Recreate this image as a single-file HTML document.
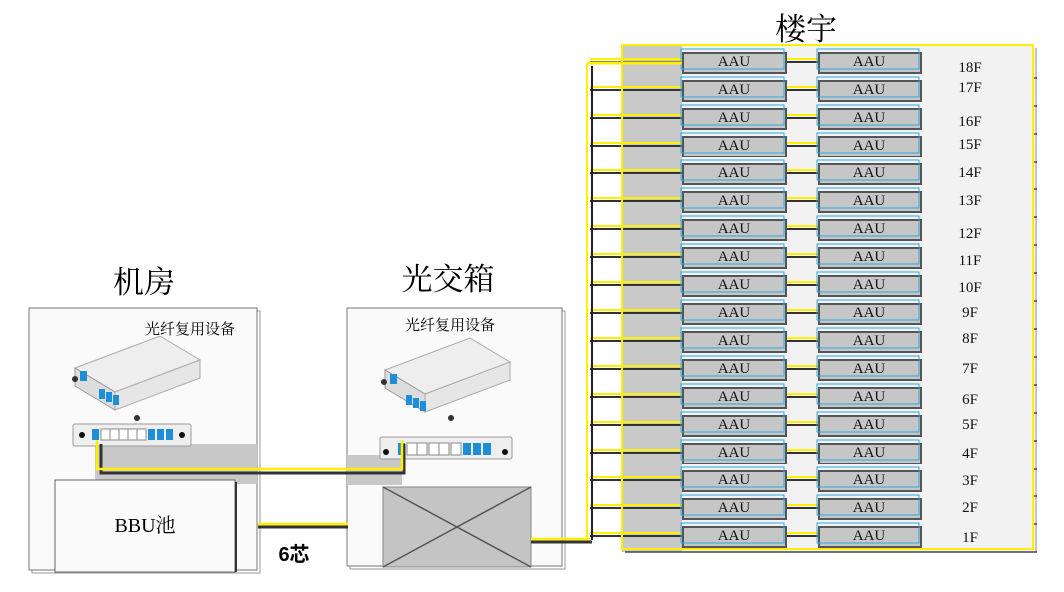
<!DOCTYPE html>
<html><head><meta charset="utf-8"><style>
body{margin:0;background:#fff}
svg{display:block}
.s{font-family:"Liberation Serif","Noto Serif CJK SC",serif}
.c{font-family:"Liberation Sans","Noto Sans CJK SC",sans-serif}
.t{font-family:"Liberation Serif","Noto Serif CJK SC",serif}
</style></head><body>
<svg width="1064" height="592" viewBox="0 0 1064 592" xmlns="http://www.w3.org/2000/svg">
<defs>
<g id="row">
  <rect x="622" y="-6" width="60" height="32" fill="#c9c9c9"/>
  <rect x="682" y="-6" width="350" height="32" fill="#f2f2f2"/>
  <line x1="625" y1="26" x2="1037" y2="26" stroke="#444" stroke-width="1.5"/>
  <line x1="590" y1="10" x2="682" y2="10" stroke="#333" stroke-width="2"/>
  <line x1="590" y1="7" x2="682" y2="7" stroke="#ffef00" stroke-width="2"/>
  <line x1="786" y1="10" x2="818" y2="10" stroke="#333" stroke-width="2"/>
  <line x1="786" y1="7" x2="818" y2="7" stroke="#ffef00" stroke-width="2"/>
  <rect x="683" y="1" width="103" height="20" fill="#c6c6c6" stroke="#555" stroke-width="2"/>
  <rect x="681" y="-3" width="103" height="20" fill="none" stroke="#29abe2" stroke-width="1"/>
  <rect x="819" y="1" width="102" height="20" fill="#c6c6c6" stroke="#555" stroke-width="2"/>
  <rect x="817" y="-3" width="102" height="20" fill="none" stroke="#29abe2" stroke-width="1"/>
</g>
</defs>
<rect x="622" y="45" width="411" height="504" fill="#f2f2f2" stroke="#ffef00" stroke-width="2"/>
<line x1="1036" y1="48" x2="1036" y2="552" stroke="#888"/>
<line x1="626" y1="552" x2="1036" y2="552" stroke="#888"/>
<use href="#row" y="52"/><use href="#row" y="80"/><use href="#row" y="108"/><use href="#row" y="136"/>
<use href="#row" y="163"/><use href="#row" y="191"/><use href="#row" y="219"/><use href="#row" y="247"/>
<use href="#row" y="275"/><use href="#row" y="303"/><use href="#row" y="331"/><use href="#row" y="359"/>
<use href="#row" y="387"/><use href="#row" y="415"/><use href="#row" y="443"/><use href="#row" y="470"/>
<use href="#row" y="498"/><use href="#row" y="526"/>
<rect x="622" y="45" width="411" height="504" fill="none" stroke="#ffef00" stroke-width="2"/>
<line x1="592" y1="66" x2="592" y2="540" stroke="#222" stroke-width="2"/>
<line x1="587" y1="63" x2="587" y2="540" stroke="#ffef00" stroke-width="2"/>
<line x1="587" y1="63" x2="682" y2="63" stroke="#ffef00" stroke-width="3"/>
<g class="s" font-size="15" text-anchor="middle" fill="#111">
<text x="734" y="66">AAU</text><text x="869" y="66">AAU</text>
<text x="734" y="94">AAU</text><text x="869" y="94">AAU</text>
<text x="734" y="122">AAU</text><text x="869" y="122">AAU</text>
<text x="734" y="150">AAU</text><text x="869" y="150">AAU</text>
<text x="734" y="177">AAU</text><text x="869" y="177">AAU</text>
<text x="734" y="205">AAU</text><text x="869" y="205">AAU</text>
<text x="734" y="233">AAU</text><text x="869" y="233">AAU</text>
<text x="734" y="261">AAU</text><text x="869" y="261">AAU</text>
<text x="734" y="289">AAU</text><text x="869" y="289">AAU</text>
<text x="734" y="317">AAU</text><text x="869" y="317">AAU</text>
<text x="734" y="345">AAU</text><text x="869" y="345">AAU</text>
<text x="734" y="373">AAU</text><text x="869" y="373">AAU</text>
<text x="734" y="401">AAU</text><text x="869" y="401">AAU</text>
<text x="734" y="429">AAU</text><text x="869" y="429">AAU</text>
<text x="734" y="457">AAU</text><text x="869" y="457">AAU</text>
<text x="734" y="484">AAU</text><text x="869" y="484">AAU</text>
<text x="734" y="512">AAU</text><text x="869" y="512">AAU</text>
<text x="734" y="540">AAU</text><text x="869" y="540">AAU</text>
</g>
<g class="s" font-size="15" text-anchor="middle" fill="#111">
<text x="970" y="72">18F</text><text x="970" y="92">17F</text><text x="970" y="126">16F</text>
<text x="970" y="149">15F</text><text x="970" y="177">14F</text><text x="970" y="205">13F</text>
<text x="970" y="238">12F</text><text x="970" y="265">11F</text><text x="970" y="292">10F</text>
<text x="970" y="317">9F</text><text x="970" y="343">8F</text><text x="970" y="373">7F</text>
<text x="970" y="404">6F</text><text x="970" y="429">5F</text><text x="970" y="458">4F</text>
<text x="970" y="485">3F</text><text x="970" y="512">2F</text><text x="970" y="542">1F</text>
</g>
<text x="806" y="40" class="t" font-size="31" text-anchor="middle">楼宇</text>

<text x="144" y="293" class="t" font-size="31" text-anchor="middle">机房</text>
<rect x="32" y="311" width="228" height="262" fill="#fff" stroke="#999"/>
<rect x="29" y="308" width="228" height="262" fill="#fafafa" stroke="#777"/>
<text x="190" y="334" class="t" font-size="15" text-anchor="middle">光纤复用设备</text>
<rect x="95" y="444" width="162" height="40" fill="#c8c8c8"/>
<polygon points="75,368 160,336 200,360 115,392" fill="#eee" stroke="#aaa"/>
<polygon points="75,368 115,392 115,410 75,386" fill="#ddd" stroke="#999"/>
<polygon points="115,392 200,360 200,378 115,410" fill="#e6e6e6" stroke="#aaa"/>
<rect x="80" y="371" width="7" height="10" fill="#1e8fd6"/>
<rect x="99" y="389" width="6" height="10" fill="#1e8fd6"/><rect x="106" y="392" width="6" height="10" fill="#1e8fd6"/><rect x="113" y="395" width="6" height="10" fill="#1e8fd6"/>
<circle cx="75" cy="379" r="3" fill="#333"/><circle cx="137" cy="418" r="3" fill="#333"/>
<rect x="73" y="424" width="118" height="22" rx="2" fill="#eee" stroke="#999"/>
<circle cx="82" cy="435" r="3" fill="#111"/><circle cx="182" cy="435" r="3" fill="#111"/>
<rect x="92" y="429" width="7" height="11" fill="#1e8fd6"/>
<rect x="101" y="429" width="9" height="11" fill="#fff" stroke="#888"/><rect x="110" y="429" width="9" height="11" fill="#fff" stroke="#888"/><rect x="119" y="429" width="9" height="11" fill="#fff" stroke="#888"/><rect x="128" y="429" width="9" height="11" fill="#fff" stroke="#888"/><rect x="137" y="429" width="9" height="11" fill="#fff" stroke="#888"/>
<rect x="148" y="429" width="7" height="11" fill="#1e8fd6"/><rect x="157" y="429" width="7" height="11" fill="#1e8fd6"/><rect x="166" y="429" width="7" height="11" fill="#1e8fd6"/>
<rect x="55" y="480" width="180" height="92" fill="#fafafa" stroke="#666"/>
<line x1="236" y1="482" x2="236" y2="572" stroke="#333" stroke-width="2"/>
<text x="145" y="532" class="s" font-size="20" text-anchor="middle">BBU池</text>

<text x="448" y="290" class="t" font-size="31" text-anchor="middle">光交箱</text>
<rect x="350" y="311" width="215" height="258" fill="#fff" stroke="#999"/>
<rect x="347" y="308" width="215" height="258" fill="#fafafa" stroke="#777"/>
<text x="450" y="330" class="t" font-size="15" text-anchor="middle">光纤复用设备</text>
<rect x="347" y="455" width="55" height="30" fill="#c8c8c8"/>
<polygon points="385,370 470,338 510,362 425,394" fill="#eee" stroke="#aaa"/>
<polygon points="385,370 425,394 425,412 385,388" fill="#ddd" stroke="#999"/>
<polygon points="425,394 510,362 510,380 425,412" fill="#e6e6e6" stroke="#aaa"/>
<rect x="390" y="374" width="7" height="10" fill="#1e8fd6"/>
<rect x="406" y="395" width="6" height="10" fill="#1e8fd6"/><rect x="413" y="398" width="6" height="10" fill="#1e8fd6"/><rect x="420" y="401" width="6" height="10" fill="#1e8fd6"/>
<circle cx="384" cy="382" r="3" fill="#333"/><circle cx="451" cy="418" r="3" fill="#333"/>
<rect x="380" y="437" width="132" height="22" rx="2" fill="#eee" stroke="#999"/>
<circle cx="386" cy="452" r="3" fill="#111"/><circle cx="505" cy="452" r="3" fill="#111"/>
<rect x="398" y="443" width="7" height="12" fill="#1e8fd6"/>
<rect x="407" y="443" width="10" height="12" fill="#fff" stroke="#888"/><rect x="417" y="443" width="10" height="12" fill="#fff" stroke="#888"/><rect x="429" y="443" width="10" height="12" fill="#fff" stroke="#888"/><rect x="439" y="443" width="10" height="12" fill="#fff" stroke="#888"/><rect x="451" y="443" width="10" height="12" fill="#fff" stroke="#888"/>
<rect x="463" y="443" width="8" height="12" fill="#1e8fd6"/><rect x="473" y="443" width="8" height="12" fill="#1e8fd6"/><rect x="483" y="443" width="8" height="12" fill="#1e8fd6"/>
<rect x="383" y="487" width="148" height="80" fill="#c4c4c4" stroke="#888"/>
<line x1="383" y1="487" x2="531" y2="567" stroke="#555" stroke-width="1.5"/>
<line x1="531" y1="487" x2="383" y2="567" stroke="#555" stroke-width="1.5"/>

<polyline points="99,442 99,471 402,471 402,442" fill="none" stroke="#333" stroke-width="3" transform="translate(2,2)"/>
<polyline points="97,440 97,469 402,469 402,440" fill="none" stroke="#ffef00" stroke-width="2.5"/>
<line x1="258" y1="527" x2="348" y2="527" stroke="#333" stroke-width="3"/>
<line x1="258" y1="524" x2="348" y2="524" stroke="#ffef00" stroke-width="2.5"/>
<line x1="531" y1="542" x2="592" y2="542" stroke="#333" stroke-width="3"/>
<line x1="531" y1="539" x2="590" y2="539" stroke="#ffef00" stroke-width="2.5"/>
<text x="294" y="561" class="c" font-size="20" font-weight="bold" text-anchor="middle">6芯</text>
</svg>
</body></html>
